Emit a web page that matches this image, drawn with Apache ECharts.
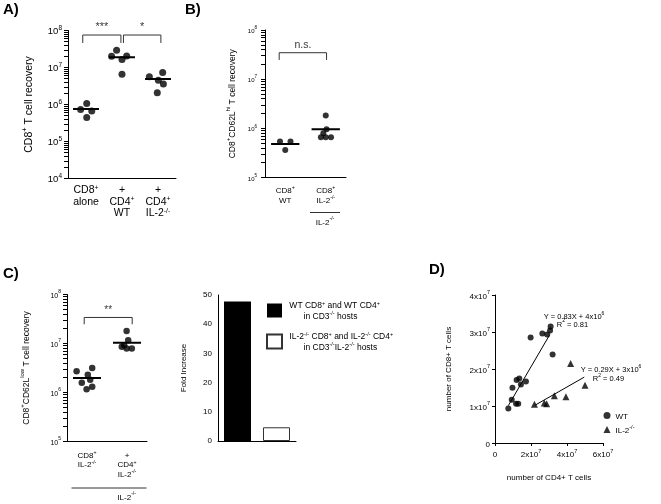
<!DOCTYPE html>
<html><head><meta charset="utf-8">
<script src="https://cdn.jsdelivr.net/npm/echarts@6/dist/echarts.min.js"></script>
<style>html,body{margin:0;padding:0;background:#fff}#c{width:661px;height:504px}</style>
</head><body><div id="c"></div>
<script>
// ---------- Panel A ----------
const aLabels = ['{n|CD8}{s|+}\n{n|alone}', '{n|+}\n{n|CD4}{s|+}\n{n|WT}', '{n|+}\n{n|CD4}{s|+}\n{n|IL-2}{s|-/-}'];
const aAloneValues = [1.06e6, 7.3e5, 6.7e5, 4.45e5];
const aAloneOffsets = [0.02, -0.15, 0.16, 0.02];
const aWTValues = [2.94e7, 2.02e7, 1.64e7, 2.06e7, 6.6e6];
const aWTOffsets = [-0.15, -0.29, 0, 0.13, 0];
const aIL2Values = [5.6e6, 7.3e6, 4.5e6, 3.6e6, 2.07e6];
const aIL2Offsets = [-0.24, 0.13, 0.01, 0.15, -0.02];
const aMedians = [7.6e5, 1.9e7, 4.9e6];
const aBrackets = [[-0.09, 0.97, 4.6e7, 7.55e7, '***'], [1.04, 2.08, 4.6e7, 7.55e7, '*']];

// ---------- Panel B ----------
const bLabels = ['{n|CD8}{s|+}\n{n|WT}', '{n|CD8}{s|+}\n{n|IL-2}{s|-/-}'];
const bWTValues = [5.37e5, 5.37e5, 3.64e5];
const bWTOffsets = [-0.13, 0.13, 0];
const bIL2Values = [1.82e6, 9.6e5, 7.9e5, 6.6e5, 6.6e5, 6.6e5];
const bIL2Offsets = [0, 0.02, -0.06, -0.12, 0, 0.13];
const bMedians = [4.8e5, 9.6e5];
const bBrackets = [[-0.15, 1.02, 2.46e7, 3.45e7, 'n.s.']];

// ---------- Panel C (left) ----------
const cLabels = ['{n|CD8}{s|+}\n{n|IL-2}{s|-/-}', '{n|+}\n{n|CD4}{s|+}\n{n|IL-2}{s|-/-}'];
const cIL2Values = [3.16e6, 2.7e6, 2.31e6, 1.82e6, 1.58e6, 1.31e6, 1.16e6];
const cIL2Offsets = [0.13, -0.26, 0.02, 0.08, -0.13, 0.13, -0.01];
const cCD4Values = [1.79e7, 1.17e7, 9.25e6, 8.55e6, 7.9e6, 7.9e6];
const cCD4Offsets = [-0.01, 0.03, -0.07, -0.13, -0.01, 0.12];
const cMedians = [1.98e6, 1.03e7];
const cBrackets = [[-0.07, 1.13, 2.47e7, 3.4e7, '**']];

// ---------- Panel C (bars) ----------
const barNames = ['wt', 'il2'];
const barValues = [47.8, 4.7];
const barLegendLabels = [
  '{n| WT CD8}{s|+}{n| and WT CD4}{s|+}\n{n|       in CD3}{s|-/-}{n| hosts}',
  '{n| IL-2}{s|-/-}{n| CD8}{s|+}{n| and IL-2}{s|-/-}{n| CD4}{s|+}\n{n|       in CD3}{s|-/-}{n|IL-2}{s|-/-}{n| hosts}'
];

// ---------- Panel D ----------
const dWTx = [0.74e7, 0.93e7, 0.97e7, 1.17e7, 1.29e7, 1.2e7, 1.35e7, 1.44e7, 1.72e7, 1.98e7, 2.63e7, 2.9e7, 3.06e7, 3.09e7, 3.2e7];
const dWTy = [0.93e7, 1.17e7, 1.49e7, 1.06e7, 1.06e7, 1.7e7, 1.74e7, 1.58e7, 1.66e7, 2.85e7, 2.96e7, 2.93e7, 3.04e7, 3.15e7, 2.39e7];
const dIL2x = [2.19e7, 2.74e7, 2.87e7, 3.3e7, 3.94e7, 4.2e7, 5.0e7];
const dIL2y = [1.05e7, 1.08e7, 1.06e7, 1.28e7, 1.25e7, 2.15e7, 1.56e7];
const dWTFit = [[0.74e7, 1.01e7], [3.02e7, 2.91e7]];
const dIL2Fit = [[2.22e7, 1.02e7], [4.96e7, 1.78e7]];
const dAnnotations = [
  ['{n|Y = 0.83X + 4x10}{s|6}', 574, 316],
  ['{n|R}{s|2}{n| = 0.81}', 572.5, 323.5],
  ['{n|Y = 0.29X + 3x10}{s|6}', 611, 369],
  ['{n|R}{s|2}{n| = 0.49}', 608.5, 378]
];

const FONT = 'Liberation Sans, Arial, sans-serif';
const BLACK = '#000';
function rich(base, sup, lh) {
  return {
    n: {fontSize: base, lineHeight: lh, fontFamily: FONT, color: BLACK, verticalAlign: 'bottom'},
    s: {fontSize: sup, lineHeight: sup, fontFamily: FONT, color: BLACK, verticalAlign: 'top'}
  };
}
const axisLineBlack = {show: true, onZero: false, lineStyle: {color: BLACK, width: 1}};

// tick positions of a log axis: decades plus 2..9 x 10^d
function logTicks(minExp, maxExp) {
  const out = [];
  for (let d = minExp; d < maxExp; d++) for (let k = 1; k <= 9; k++) out.push(k * Math.pow(10, d));
  out.push(Math.pow(10, maxExp));
  return out;
}

function logAxis(gridIndex, min, minExp, fs, sfs, margin, name, nameGap, nameFs) {
  return {
    type: 'log', logBase: 10, gridIndex, min, max: 1e8, position: 'left',
    axisLine: axisLineBlack,
    axisTick: {show: true, length: 4, customValues: logTicks(minExp, 8), lineStyle: {color: BLACK}},
    splitLine: {show: false},
    axisLabel: {formatter: v => '{n|10}{s|' + Math.round(Math.log10(v)) + '}', margin, rich: rich(fs, sfs, fs + 3)},
    name, nameLocation: 'middle', nameGap, nameRotate: 90,
    nameTextStyle: {rich: rich(nameFs, nameFs * 0.7, nameFs + 3)}
  };
}
function catAxis(gridIndex, data, fs, lh, margin) {
  return {
    type: 'category', gridIndex, data, boundaryGap: true,
    axisLine: axisLineBlack, axisTick: {show: false}, splitLine: {show: false},
    axisLabel: {interval: 0, margin, rich: rich(fs, fs * 0.65, lh)}
  };
}
function hiddenX(gridIndex, n) {
  return {type: 'value', gridIndex, min: -0.5, max: n - 0.5, show: false, axisLine: {onZero: false}};
}

const series = [];
function addDots(xi, yi, groups, size) {
  const data = [];
  groups.forEach(([c, vals, offs]) => vals.forEach((v, i) => data.push([c + offs[i], v])));
  series.push({type: 'scatter', xAxisIndex: xi, yAxisIndex: yi, data, symbol: 'circle',
    symbolSize: size, itemStyle: {color: BLACK}, silent: true, z: 3});
}
function addMedians(xi, yi, medians, half) {
  medians.forEach((m, g) => series.push({type: 'line', xAxisIndex: xi, yAxisIndex: yi,
    data: [[g - half, m], [g + half, m]], symbol: 'none', lineStyle: {color: BLACK, width: 2}, silent: true, z: 4}));
}
function addBrackets(xi, yi, brackets, fs) {
  brackets.forEach(([f, t, lo, hi, txt]) => {
    series.push({type: 'line', xAxisIndex: xi, yAxisIndex: yi,
      data: [[f, lo], [f, hi], [t, hi], [t, lo]], symbol: 'none',
      lineStyle: {color: '#333', width: 1}, silent: true, z: 2});
    series.push({type: 'scatter', xAxisIndex: xi, yAxisIndex: yi, data: [[(f + t) / 2, hi]],
      symbolSize: 1, itemStyle: {color: 'rgba(0,0,0,0)'}, silent: true,
      label: {show: true, position: 'top', distance: 2, formatter: txt, color: BLACK, fontSize: fs, fontFamily: FONT}});
  });
}

// Panel A
addDots(1, 0, [[0, aAloneValues, aAloneOffsets], [1, aWTValues, aWTOffsets], [2, aIL2Values, aIL2Offsets]], 7);
addMedians(1, 0, aMedians, 0.36);
addBrackets(1, 0, aBrackets, 11);
// Panel B
addDots(3, 1, [[0, bWTValues, bWTOffsets], [1, bIL2Values, bIL2Offsets]], 6);
addMedians(3, 1, bMedians, 0.35);
addBrackets(3, 1, bBrackets, 10.5);
// Panel C
addDots(5, 2, [[0, cIL2Values, cIL2Offsets], [1, cCD4Values, cCD4Offsets]], 6.5);
addMedians(5, 2, cMedians, 0.35);
addBrackets(5, 2, cBrackets, 10);
// Bars
series.push({type: 'bar', name: barNames[0], xAxisIndex: 6, yAxisIndex: 3, data: [barValues[0], '-'],
  barWidth: 27, barGap: '-100%', itemStyle: {color: '#000'}, silent: true});
series.push({type: 'bar', name: barNames[1], xAxisIndex: 6, yAxisIndex: 3, data: ['-', barValues[1]],
  barWidth: 27, barGap: '-100%', itemStyle: {color: '#fff', borderColor: '#333', borderWidth: 1}, silent: true});
// Panel D
series.push({type: 'scatter', name: 'WT', xAxisIndex: 7, yAxisIndex: 4, data: dWTx.map((x, i) => [x, dWTy[i]]),
  symbol: 'circle', symbolSize: 6, itemStyle: {color: BLACK}, silent: true, z: 3});
series.push({type: 'scatter', name: 'IL-2', xAxisIndex: 7, yAxisIndex: 4, data: dIL2x.map((x, i) => [x, dIL2y[i]]),
  symbol: 'triangle', symbolSize: 7, itemStyle: {color: BLACK}, silent: true, z: 3});
series.push({type: 'line', xAxisIndex: 7, yAxisIndex: 4, data: dWTFit, symbol: 'none', lineStyle: {color: BLACK, width: 1}, silent: true});
series.push({type: 'line', xAxisIndex: 7, yAxisIndex: 4, data: dIL2Fit, symbol: 'none', lineStyle: {color: BLACK, width: 1}, silent: true});

const sciLabel = v => v === 0 ? '{n|0}' : '{n|' + (v / 1e7) + 'x10}{s|7}';

const graphic = [
  {type: 'text', x: 3, y: 2, style: {text: 'A)', font: 'bold 15px ' + FONT, fill: BLACK}},
  {type: 'text', x: 185, y: 2, style: {text: 'B)', font: 'bold 15px ' + FONT, fill: BLACK}},
  {type: 'text', x: 3, y: 266, style: {text: 'C)', font: 'bold 15px ' + FONT, fill: BLACK}},
  {type: 'text', x: 429, y: 262, style: {text: 'D)', font: 'bold 15px ' + FONT, fill: BLACK}},
  {type: 'line', shape: {x1: 310, y1: 212.5, x2: 340, y2: 212.5}, style: {stroke: '#333', lineWidth: 1}},
  {type: 'text', x: 325, y: 221.7, style: {text: '{n|IL-2}{s|-/-}', rich: rich(8, 5.2, 11), align: 'center', verticalAlign: 'middle'}},
  {type: 'line', shape: {x1: 71.5, y1: 488, x2: 146.5, y2: 488}, style: {stroke: '#333', lineWidth: 1}},
  {type: 'text', x: 126.7, y: 496.7, style: {text: '{n|IL-2}{s|-/-}', rich: rich(8, 5.2, 11), align: 'center', verticalAlign: 'middle'}}
];
dAnnotations.forEach(([t, x, y]) => graphic.push({type: 'text', x, y,
  style: {text: t, rich: rich(7.5, 5, 10), align: 'center', verticalAlign: 'middle'}}));

const gridBase = {containLabel: false, outerBoundsMode: 'none'};
const option = {
  animation: false,
  backgroundColor: '#fff',
  grid: [
    Object.assign({left: 68, top: 30.5, width: 108, height: 148}, gridBase),
    Object.assign({left: 265, top: 30, width: 81, height: 147.5}, gridBase),
    Object.assign({left: 67, top: 294.5, width: 80, height: 147}, gridBase),
    Object.assign({left: 218, top: 295, width: 78, height: 146}, gridBase),
    Object.assign({left: 495, top: 295, width: 108, height: 148}, gridBase)
  ],
  xAxis: [
    catAxis(0, aLabels, 10.5, 11.5, 6),
    hiddenX(0, 3),
    catAxis(1, bLabels, 8, 9.5, 8),
    hiddenX(1, 2),
    catAxis(2, cLabels, 8, 9.3, 9),
    hiddenX(2, 2),
    {type: 'category', gridIndex: 3, data: barNames, axisLine: axisLineBlack, axisTick: {show: false},
      axisLabel: {show: false}, splitLine: {show: false}},
    {type: 'value', gridIndex: 4, min: 0, max: 6e7, interval: 2e7, axisLine: axisLineBlack,
      axisTick: {length: 3, lineStyle: {color: BLACK}}, splitLine: {show: false},
      axisLabel: {formatter: sciLabel, margin: 5, rich: rich(8, 5.5, 11)},
      name: 'number of CD4+ T cells', nameLocation: 'middle', nameGap: 31,
      nameTextStyle: {fontSize: 8, fontFamily: FONT, color: BLACK}}
  ],
  yAxis: [
    logAxis(0, 1e4, 4, 9.5, 6.5, 6, '{n|CD8}{s|+}{n| T cell recovery}', 33, 10.5),
    logAxis(1, 1e5, 5, 6, 4.5, 8, '{n|CD8}{s|+}{n|CD62L}{s|hi}{n| T cell recovery}', 28, 8.5),
    logAxis(2, 1e5, 5, 7, 5, 6, '{n|CD8}{s|+}{n|CD62L}{s|low}{n| T cell recovery}', 36, 8.5),
    {type: 'value', gridIndex: 3, min: 0, max: 50, interval: 10, axisLine: axisLineBlack,
      axisTick: {length: 3, lineStyle: {color: BLACK}}, splitLine: {show: false},
      axisLabel: {margin: 6, fontSize: 8, fontFamily: FONT, color: BLACK},
      name: 'Fold Increase', nameLocation: 'middle', nameGap: 30,
      nameTextStyle: {fontSize: 8, fontFamily: FONT, color: BLACK}},
    {type: 'value', gridIndex: 4, min: 0, max: 4e7, interval: 1e7, axisLine: axisLineBlack,
      axisTick: {length: 3, lineStyle: {color: BLACK}}, splitLine: {show: false},
      axisLabel: {formatter: sciLabel, margin: 5, rich: rich(8, 5.5, 11)},
      name: 'number of CD8+ T cells', nameLocation: 'middle', nameGap: 42,
      nameTextStyle: {fontSize: 8, fontFamily: FONT, color: BLACK}}
  ],
  legend: [
    {data: barNames, left: 266, top: 300, padding: 0, orient: 'vertical', itemWidth: 15, itemHeight: 14,
      itemGap: 10, icon: 'rect', selectedMode: false,
      formatter: n => barLegendLabels[barNames.indexOf(n)], textStyle: {rich: rich(8.5, 5.5, 10.5)}},
    {data: ['WT', 'IL-2'], left: 603.5, top: 412, padding: 0, orient: 'vertical', itemWidth: 7, itemHeight: 7,
      itemGap: 4, selectedMode: false,
      formatter: n => n === 'WT' ? '{n|WT}' : '{n|IL-2}{s|-/-}', textStyle: {rich: rich(8, 5.5, 10)}}
  ],
  graphic,
  series
};
const chart = echarts.init(document.getElementById('c'));
chart.setOption(option);
</script></body></html>
